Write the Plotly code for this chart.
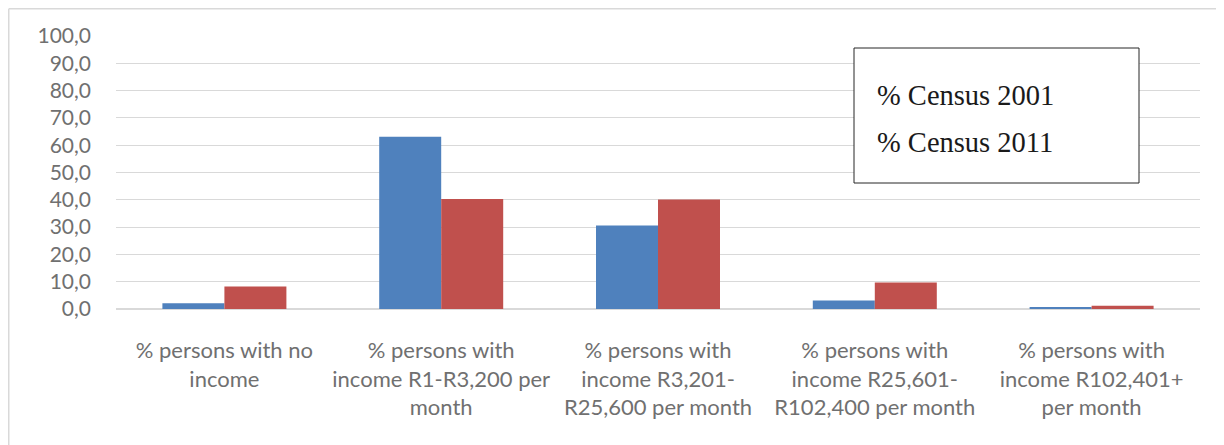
import plotly.graph_objects as go

categories = [
    "% persons with no<br>income",
    "% persons with<br>income R1-R3,200 per<br>month",
    "% persons with<br>income R3,201-<br>R25,600 per month",
    "% persons with<br>income R25,601-<br>R102,400 per month",
    "% persons with<br>income R102,401+<br>per month",
]
series_names = ["% Census 2001", "% Census 2011"]
census_2001 = [2.1, 63.1, 30.6, 3.1, 0.5]
census_2011 = [8.2, 40.3, 40.1, 9.7, 1.2]
y_ticks = [0, 10, 20, 30, 40, 50, 60, 70, 80, 90, 100]

OFF = 8  # page body margin
W, H = 1224 - OFF, 445 - OFF
L, R, T, B = 116 - OFF, 24, 36 - OFF, 136
pw, ph = W - L - R, H - T - B

def px_x(p):
    return (p - OFF - L) / pw

def px_y(p):
    return 1 - (p - OFF - T) / ph

fig = go.Figure()
fig.add_trace(go.Bar(x=categories, y=census_2001, name=series_names[0],
                     marker=dict(color="#4F81BD", line=dict(width=0))))
fig.add_trace(go.Bar(x=categories, y=census_2011, name=series_names[1],
                     marker=dict(color="#C0504D", line=dict(width=0))))

tick_font = dict(family="Lato, Open Sans, sans-serif", size=21, color="#707070")
cat_font = dict(family="Lato, Open Sans, sans-serif", size=22, color="#707070")

fig.update_layout(
    width=W, height=H,
    margin=dict(l=L, r=R, t=T, b=B, pad=0),
    paper_bgcolor="white", plot_bgcolor="white",
    barmode="group", bargap=0.428, bargroupgap=0,
    showlegend=False,
    separators=",.",
    xaxis=dict(tickfont=cat_font, showgrid=False, ticks="", showline=False,
               ticklabelstandoff=26, tickangle=0),
    yaxis=dict(range=[0, 100], tickvals=y_ticks, tickformat=".1f",
               tickfont=tick_font, showgrid=True, gridcolor="#d9d9d9", gridwidth=1,
               zeroline=True, zerolinecolor="#d9d9d9", zerolinewidth=1.5,
               showline=False, ticks="", ticklabelstandoff=24),
)

# outer chart border (left and top visible)
fig.add_shape(type="line", xref="paper", yref="paper",
              x0=px_x(8.75), x1=px_x(1240), y0=px_y(8.75), y1=px_y(8.75),
              line=dict(color="#d9d9d9", width=1.5))
fig.add_shape(type="line", xref="paper", yref="paper",
              x0=px_x(8.75), x1=px_x(8.75), y0=px_y(8.75), y1=px_y(460),
              line=dict(color="#d9d9d9", width=1.5))

# legend box
fig.add_shape(type="rect", xref="paper", yref="paper",
              x0=px_x(854), x1=px_x(1139), y0=px_y(183), y1=px_y(48),
              line=dict(color="#262626", width=1), fillcolor="white", layer="above")
for name, yc in zip(series_names, [95, 142]):
    fig.add_annotation(text=name, xref="paper", yref="paper",
                       x=px_x(875), y=px_y(yc), xanchor="left", yanchor="middle",
                       showarrow=False,
                       font=dict(family="Liberation Serif, Times New Roman, serif",
                                 size=28.5, color="#1a1a1a"))

fig.write_html("out.html")
